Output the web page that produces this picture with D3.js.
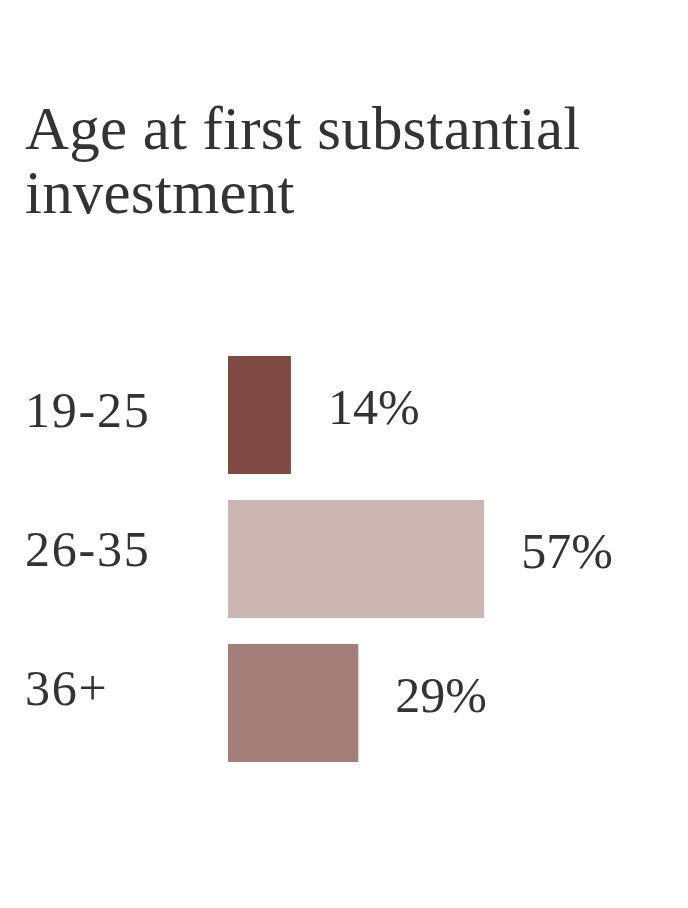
<!DOCTYPE html>
<html>
<head>
<meta charset="utf-8">
<script src="https://cdn.jsdelivr.net/npm/d3@7"></script>
<style>
  html, body { margin: 0; padding: 0; background: #ffffff; }
  svg { display: block; }
  text { font-family: "Liberation Serif", "DejaVu Serif", serif; fill: #333333; }
</style>
</head>
<body>
<script>
const titleLines = ["Age at first substantial", "investment"];
const categories = ["19-25", "26-35", "36+"];
const values = [14, 57, 29];
const valueLabels = ["14%", "57%", "29%"];
const colors = ["#7f4a43", "#cbb6b4", "#a47e78"];

const W = 688, H = 908;
const svg = d3.select("body").append("svg").attr("width", W).attr("height", H);

// Title
svg.append("g").selectAll("text").data(titleLines).join("text")
  .attr("x", 25)
  .attr("y", (d, i) => 149 + i * 64)
  .attr("font-size", 61)
  .attr("letter-spacing", 0.2)
  .text(d => d);

const x = d3.scaleLinear().domain([0, 100]).range([228, 228 + 449.4]);
const y = d3.scaleBand().domain(categories).range([356, 762]).paddingInner(26 / 144);
const yLabel = d3.scalePoint().domain(categories).range([427, 705]);

svg.append("g").selectAll("rect").data(categories).join("rect")
  .attr("x", x(0))
  .attr("y", d => y(d))
  .attr("width", (d, i) => x(values[i]) - x(0))
  .attr("height", y.bandwidth())
  .attr("fill", (d, i) => colors[i]);

svg.append("g").selectAll("text").data(categories).join("text")
  .attr("x", 25)
  .attr("y", d => yLabel(d))
  .attr("font-size", 50)
  .attr("letter-spacing", 1.8)
  .text(d => d);

svg.append("g").selectAll("text").data(categories).join("text")
  .attr("x", (d, i) => x(values[i]) + 37)
  .attr("y", d => y(d) + y.bandwidth() / 2 + 9)
  .attr("font-size", 50)
  .text((d, i) => valueLabels[i]);
</script>
</body>
</html>
